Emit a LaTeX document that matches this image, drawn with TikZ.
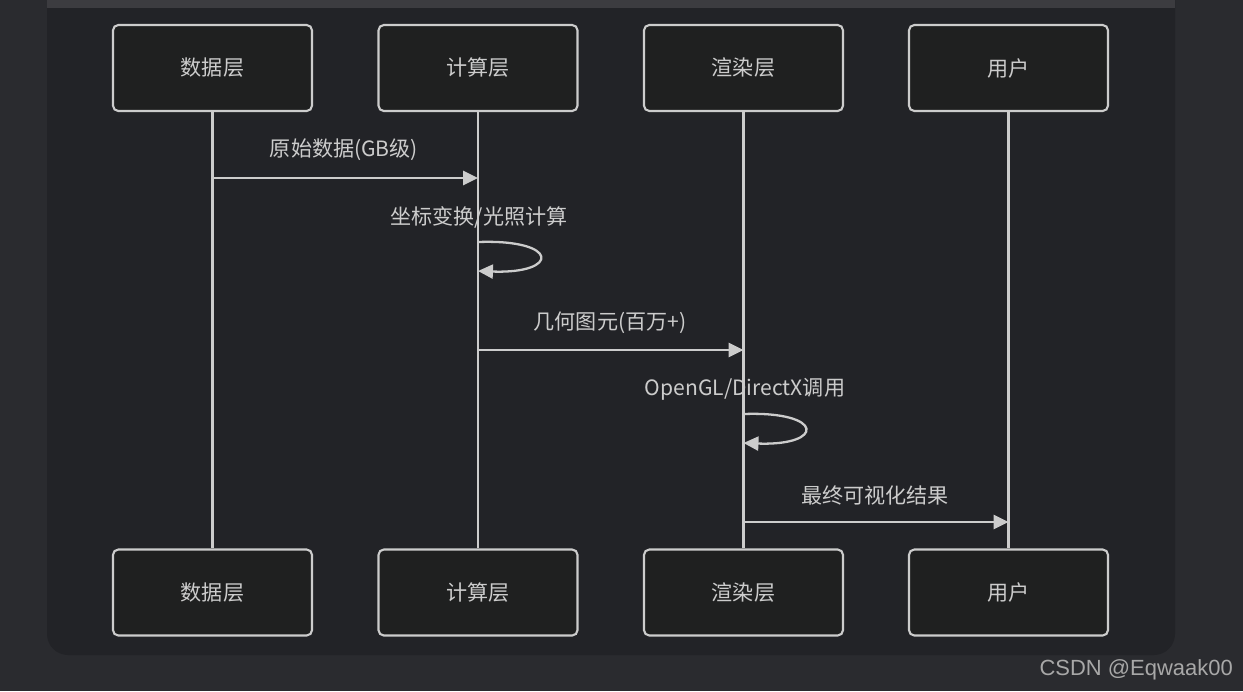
\documentclass[tikz,border=0pt]{standalone}
\usepackage{fontspec}
\setmainfont{Noto Sans CJK SC}
\newfontfamily\marksans{Liberation Sans}
\usetikzlibrary{arrows.meta,positioning}
\definecolor{pagebg}{HTML}{2A2B2F}
\definecolor{panelbg}{HTML}{222327}
\definecolor{stripbg}{HTML}{3C3C40}
\definecolor{boxbg}{HTML}{1F2020}
\definecolor{ink}{HTML}{CCCCCC}
\definecolor{markgray}{HTML}{A8A8A8}

\begin{document}
\begin{tikzpicture}[x=0.02cm,y=-0.02cm,
  actor/.style={draw=ink,line width=1.2pt,rounded corners=3pt,fill=boxbg,text=ink,
    minimum width=3.98cm,minimum height=1.72cm,font=\fontsize{12}{14}\selectfont},
  life/.style={draw=ink,line width=1.3pt},
  msg/.style={draw=ink,line width=1.3pt,-{Triangle[length=8.5pt,width=8pt]}},
  msglabel/.style={text=ink,font=\fontsize{12}{14}\selectfont}]
\useasboundingbox (0,0) rectangle (1243,691);
% background and panel
\fill[pagebg] (0,0) rectangle (1243,691);
\fill[panelbg,rounded corners=12pt] (47,-30) rectangle (1175,655);
\fill[stripbg] (47,-2) rectangle (1175,8);
% actors, top row
\node[actor] (dt) at (212.5,68) {数据层};
\node[actor] (ct) at (478,68) {计算层};
\node[actor] (rt) at (743.5,68) {渲染层};
\node[actor] (ut) at (1008.5,68) {用户};
% actors, bottom row
\node[actor] (db) at (212.5,592.5) {数据层};
\node[actor] (cb) at (478,592.5) {计算层};
\node[actor] (rb) at (743.5,592.5) {渲染层};
\node[actor] (ub) at (1008.5,592.5) {用户};
% lifelines
\draw[life] (dt)--(db);
\draw[life] (ct)--(cb);
\draw[life] (rt)--(rb);
\draw[life] (ut)--(ub);
% messages
\node[msglabel] (l1) at (344,150) {原始数据(GB级)};
\draw[msg] (dt |- 0,178)--(ct |- 0,178);
\node[msglabel] (l2) at (479,217) {坐标变换/光照计算};
\draw[msg] (ct |- 0,242) .. controls (560,239) and (560,274) .. (ct |- 0,271);
\node[msglabel] (l3) at (610,323) {几何图元(百万+)};
\draw[msg] (ct |- 0,350)--(rt |- 0,350);
\node[msglabel] (l4) at (745,389) {OpenGL/DirectX调用};
\draw[msg] (rt |- 0,414) .. controls (825,411) and (825,446) .. (rt |- 0,443);
\node[msglabel] (l5) at (875,495) {最终可视化结果};
\draw[msg] (rt |- 0,522)--(ut |- 0,522);
% watermark
\node[anchor=east,text=markgray,font=\marksans\fontsize{12.5}{14}\selectfont] (wm) at (1239,670) {CSDN @Eqwaak00};
\end{tikzpicture}
\end{document}
